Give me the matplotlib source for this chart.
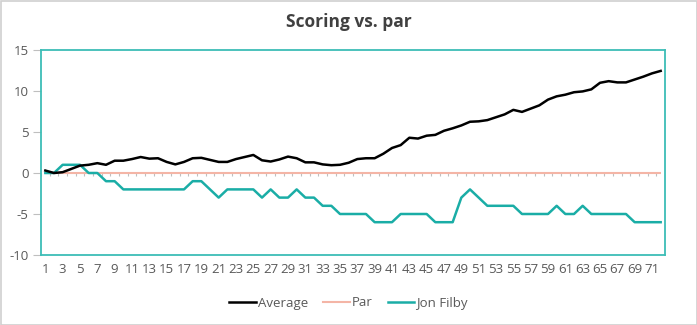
import numpy as np
import matplotlib
matplotlib.use("Agg")
import matplotlib.pyplot as plt
from matplotlib.lines import Line2D
from matplotlib.patches import Rectangle

holes = list(range(1, 73))

average = [0.3, 0.0, 0.1, 0.5, 0.9, 1.0, 1.2, 1.0, 1.5, 1.5,
           1.7, 1.95, 1.75, 1.8, 1.35, 1.05, 1.35, 1.8, 1.85, 1.6,
           1.35, 1.35, 1.7, 1.95, 2.2, 1.55, 1.4, 1.65, 2.0, 1.8,
           1.3, 1.3, 1.05, 0.95, 1.0, 1.25, 1.7, 1.8, 1.8, 2.35,
           3.05, 3.4, 4.3, 4.2, 4.55, 4.65, 5.15, 5.45, 5.8, 6.25,
           6.3, 6.45, 6.8, 7.15, 7.7, 7.45, 7.85, 8.25, 8.95, 9.35,
           9.55, 9.85, 9.95, 10.2, 11.0, 11.2, 11.05, 11.05, 11.4, 11.75,
           12.15, 12.45]

par = [0] * 72

jon_filby = [0, 0, 1, 1, 1, 0, 0, -1, -1, -2,
             -2, -2, -2, -2, -2, -2, -2, -1, -1, -2,
             -3, -2, -2, -2, -2, -3, -2, -3, -3, -2,
             -3, -3, -4, -4, -5, -5, -5, -5, -6, -6,
             -6, -5, -5, -5, -5, -6, -6, -6, -3, -2,
             -3, -4, -4, -4, -4, -5, -5, -5, -5, -4,
             -5, -5, -4, -5, -5, -5, -5, -5, -6, -6,
             -6, -6]

y_ticks = [-10, -5, 0, 5, 10, 15]
x_tick_labels = [str(h) for h in holes[::2]]

FONT = ["Open Sans", "DejaVu Sans"]
TEXT = "#595959"
TEAL = "#1AADA6"
FRAME = "#3DBDB6"
PAR_C = "#F4B5A6"
GRID_TICK = "#BFBFBF"

plt.rcParams["font.family"] = FONT

fig = plt.figure(figsize=(6.97, 3.25), dpi=100)
ax = fig.add_axes([41 / 697, 1 - 255 / 325, 624 / 697, 205 / 325])

ax.plot(holes, par, color=PAR_C, lw=1.5, zorder=2, solid_capstyle="butt")
ax.plot(holes, jon_filby, color=TEAL, lw=1.8, zorder=3)
ax.plot(holes, average, color="black", lw=1.8, zorder=4)

# category tick marks hanging below the zero line
ax.vlines(np.arange(0.5, 73.5, 1), -0.4, 0, color=GRID_TICK, lw=0.8, zorder=1)

ax.set_xlim(0.5, 72.5)
ax.set_ylim(-10, 15)
ax.set_yticks(y_ticks)
ax.set_yticklabels([str(v) for v in y_ticks], color=TEXT, fontsize=9.5)
ax.set_xticks(holes[::2])
ax.set_xticklabels(x_tick_labels, color=TEXT, fontsize=9.5)
ax.tick_params(axis="x", length=0, pad=6)
ax.tick_params(axis="y", length=6, color=GRID_TICK, width=0.8, pad=3)

for s in ax.spines.values():
    s.set_color(FRAME)
    s.set_linewidth(1.3)

fig.text(0.5, 1 - 22 / 325, "Scoring vs. par", ha="center", va="center",
         fontsize=12.5, fontweight="bold", color="#404040")

handles = [Line2D([], [], color="black", lw=1.8),
           Line2D([], [], color=PAR_C, lw=1.5),
           Line2D([], [], color=TEAL, lw=1.8)]
fig.legend(handles, ["Average", "Par", "Jon Filby"], loc="center",
           bbox_to_anchor=(0.5, 1 - 303 / 325), ncol=3, frameon=False,
           fontsize=9.5, labelcolor=TEXT, handlelength=2.0, handletextpad=0.15,
           columnspacing=1.15)

fig.patches.append(Rectangle((0.5 / 697, 0.5 / 325), 1 - 1 / 697, 1 - 1 / 325,
                             transform=fig.transFigure, fill=False,
                             edgecolor="#D0D0D0", lw=1.2))

fig.savefig("out.png", dpi=100, facecolor="white")
